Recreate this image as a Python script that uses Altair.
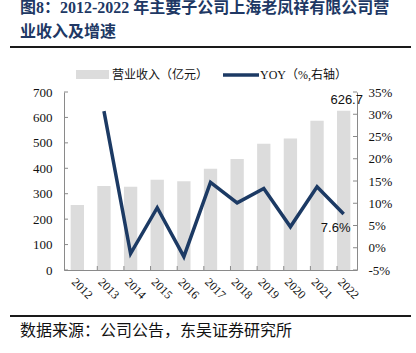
import altair as alt
import pandas as pd

years = ["2012", "2013", "2014", "2015", "2016", "2017", "2018", "2019", "2020", "2021", "2022"]
revenue = [256, 330, 327, 355, 349, 398, 437, 496, 517, 587, 626.7]
yoy = [None, 30.7, -1.3, 9.0, -2.0, 14.7, 10.1, 13.3, 4.7, 13.7, 7.6]
left_ticks = [0, 100, 200, 300, 400, 500, 600, 700]
right_ticks = [-5, 0, 5, 10, 15, 20, 25, 30, 35]

title_lines = ["图8：2012-2022  年主要子公司上海老凤祥有限公司营", "业收入及增速"]
source_text = "数据来源：公司公告，东吴证券研究所"
legend_bar = "营业收入（亿元）"
legend_line = "YOY（%,右轴）"

W, H = 293, 178
SERIF = "Liberation Serif, Times New Roman, Noto Sans CJK SC"
SANS = "Liberation Sans, Arial, sans-serif"
AXIS_GREY = "#8a8a8a"
BAR_COLOR = "#dcdcdc"
LINE_COLOR = "#1c3a64"

df = pd.DataFrame({"year": years, "revenue": revenue, "yoy": yoy})
lt = pd.DataFrame({"v": left_ticks})
rt = pd.DataFrame({"v": right_ticks})
xt = pd.DataFrame({"year": years[1:]})

x_scale = alt.Scale(domain=years, paddingInner=0.5, paddingOuter=0.25)
y_left = alt.Scale(domain=[0, 700], nice=False, zero=False)
y_right = alt.Scale(domain=[-5, 35], nice=False, zero=False)

x_axis = alt.Axis(title=None, labelAngle=45, labelAlign="left", labelBaseline="top",
                  labelPadding=6, tickSize=0, domainColor=AXIS_GREY, labelFont=SERIF,
                  labelFontSize=12, labelColor="#111111", grid=False)
left_axis = alt.Axis(title=None, values=left_ticks, tickSize=0, labelPadding=12,
                     domainColor=AXIS_GREY, labelFont=SERIF, labelFontSize=13,
                     labelColor="#111111", grid=False, orient="left")
right_axis = alt.Axis(title=None, orient="right", values=right_ticks, tickSize=0,
                      labelPadding=11, labelExpr="datum.value + '%'",
                      domainColor=AXIS_GREY, labelFont=SERIF, labelFontSize=13,
                      labelColor="#111111", grid=False)

X = alt.X("year:O", scale=x_scale, axis=x_axis)

bars = alt.Chart(df).mark_bar(color=BAR_COLOR).encode(
    x=X,
    y=alt.Y("revenue:Q", scale=y_left, axis=left_axis),
)
bar_label = alt.Chart(df).transform_filter(alt.datum.year == "2022").mark_text(
    font=SANS, fontSize=13, dy=-11, dx=3, color="#111111"
).encode(
    x=X,
    y=alt.Y("revenue:Q", scale=y_left, axis=left_axis),
    text=alt.Text("revenue:Q", format=".1f"),
)
left_tick_marks = alt.Chart(lt).mark_rule(color=AXIS_GREY, strokeWidth=1).encode(
    y=alt.Y("v:Q", scale=y_left, axis=left_axis),
    x=alt.value(0), x2=alt.value(4),
)
bar_layer = alt.layer(bars, bar_label, left_tick_marks)

line = alt.Chart(df).transform_filter("datum.yoy != null").mark_line(
    color=LINE_COLOR, strokeWidth=3.5
).encode(
    x=X,
    y=alt.Y("yoy:Q", scale=y_right, axis=right_axis),
)
line_label = alt.Chart(df).transform_filter(alt.datum.year == "2022").transform_calculate(
    lbl="format(datum.yoy, '.1f') + '%'"
).mark_text(font=SANS, fontSize=13, dx=-8, dy=14, color="#111111").encode(
    x=X,
    y=alt.Y("yoy:Q", scale=y_right, axis=right_axis),
    text="lbl:N",
)
right_tick_marks = alt.Chart(rt).mark_rule(color=AXIS_GREY, strokeWidth=1).encode(
    y=alt.Y("v:Q", scale=y_right, axis=right_axis),
    x=alt.value(W - 4), x2=alt.value(W),
)
line_layer = alt.layer(line, line_label, right_tick_marks)

x_tick_marks = alt.Chart(xt).mark_rule(color=AXIS_GREY, strokeWidth=1).encode(
    x=alt.X("year:O", scale=x_scale, axis=x_axis, bandPosition=0),
    y=alt.value(H - 4), y2=alt.value(H),
)

one = alt.Chart(pd.DataFrame({"k": [0]}))
title1 = one.mark_text(text=title_lines[0], font=SERIF, fontSize=16, fontWeight="bold",
                       color="#203864", align="left", baseline="middle").encode(
    x=alt.value(-44), y=alt.value(-84))
title2 = one.mark_text(text=title_lines[1], font=SERIF, fontSize=16, fontWeight="bold",
                       color="#203864", align="left", baseline="middle").encode(
    x=alt.value(-44), y=alt.value(-60))
top_rule = one.mark_rule(color="#1a1a1a", strokeWidth=2).encode(
    x=alt.value(-54), x2=alt.value(347), y=alt.value(-45))
bottom_rule = one.mark_rule(color="#1a1a1a", strokeWidth=2).encode(
    x=alt.value(-54), x2=alt.value(347), y=alt.value(224))
source = one.mark_text(text=source_text, font=SERIF, fontSize=16, color="#111111",
                       align="left", baseline="middle").encode(
    x=alt.value(-44), y=alt.value(239))
leg_rect = one.mark_rect(color=BAR_COLOR).encode(
    x=alt.value(12), x2=alt.value(45), y=alt.value(-22), y2=alt.value(-13))
leg_text1 = one.mark_text(text=legend_bar, font=SERIF, fontSize=12, color="#111111",
                          align="left", baseline="middle").encode(
    x=alt.value(48), y=alt.value(-17))
leg_line = one.mark_rule(color=LINE_COLOR, strokeWidth=3.5).encode(
    x=alt.value(159), x2=alt.value(195), y=alt.value(-17))
leg_text2 = one.mark_text(text=legend_line, font=SERIF, fontSize=12, color="#111111",
                          align="left", baseline="middle").encode(
    x=alt.value(196), y=alt.value(-17))

chart = alt.layer(
    alt.layer(bar_layer, line_layer).resolve_scale(y="independent"),
    x_tick_marks, title1, title2, top_rule, bottom_rule, source,
    leg_rect, leg_text1, leg_line, leg_text2,
).properties(
    width=W, height=H,
    autosize=alt.AutoSizeParams(type="none"),
    padding={"left": 64, "top": 92, "right": 416 - 64 - W, "bottom": 353 - 92 - H},
    background="white",
).configure_view(stroke=None)

chart.save("out.html", embed_options={"renderer": "svg", "actions": False})
